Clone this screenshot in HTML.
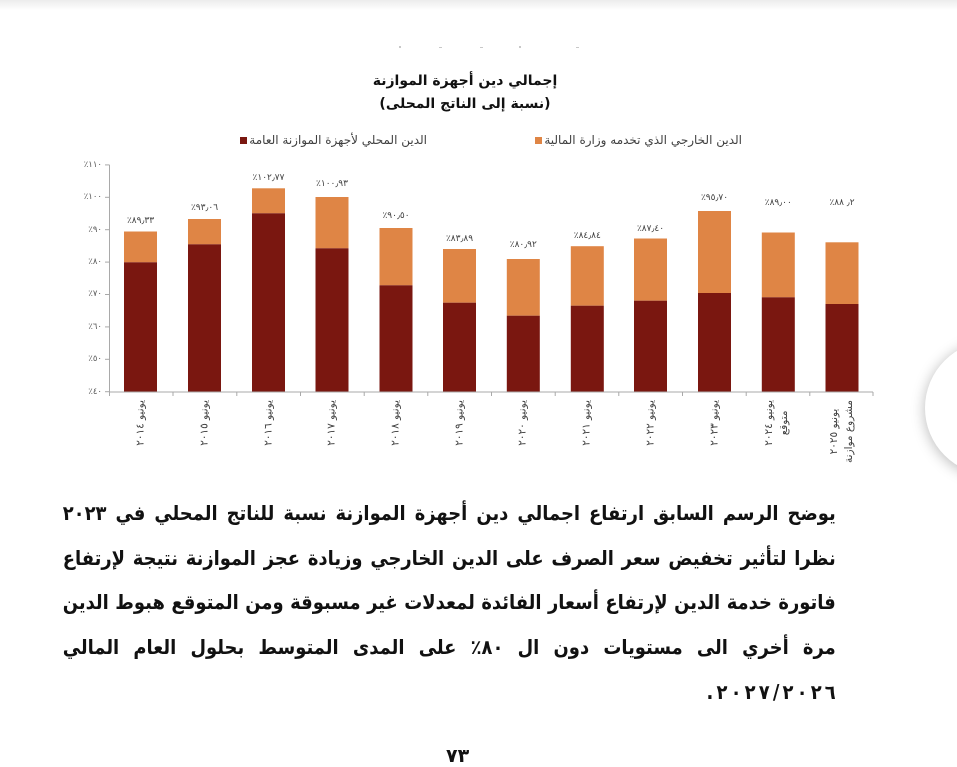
<!DOCTYPE html>
<html lang="ar">
<head>
<meta charset="utf-8">
<style>
html,body{margin:0;padding:0;background:#fff;}
body{width:957px;height:757px;position:relative;overflow:hidden;font-family:"DejaVu Sans","Liberation Sans",sans-serif;}
.abs{position:absolute;}
.topfade{left:0;top:0;width:957px;height:10px;background:linear-gradient(#ececec,#ffffff);}
.title{left:300px;width:330px;text-align:center;direction:rtl;font-weight:bold;font-size:14px;color:#111;white-space:nowrap;}
.leg{font-size:12px;color:#404040;white-space:nowrap;display:flex;align-items:center;direction:ltr;}
.leg span.t{direction:rtl;}
.leg i{display:inline-block;width:7px;height:7px;margin-right:2px;}
.ylab{font-size:8.5px;color:#595959;width:40px;text-align:right;unicode-bidi:bidi-override;direction:ltr;line-height:10px;}
.vlab{font-size:9px;color:#404040;width:60px;text-align:center;unicode-bidi:bidi-override;direction:ltr;line-height:10px;}
.xlab{top:400px;width:max-content;transform-origin:0 0;transform:rotate(-90deg) translate(-100%,-50%);text-align:center;direction:rtl;font-size:10.5px;line-height:15px;color:#404040;white-space:nowrap;}
.xlab .d{letter-spacing:3px;}
.para{left:63px;width:773px;direction:rtl;font-weight:bold;font-size:18px;color:#111;line-height:44.7px;transform-origin:right top;}
.para div{text-align:justify;text-align-last:justify;white-space:nowrap;height:44.7px;overflow:visible;}
.para div.last{text-align:right;text-align-last:right;}
.dg{direction:ltr;unicode-bidi:bidi-override;display:inline-block;}
.dg b{display:inline-block;margin-right:3.5px;font-weight:bold;}
.dg b:last-child{margin-right:0;}
.circle{left:925px;top:341px;width:134px;height:134px;border-radius:50%;background:#fff;box-shadow:0 2px 14px rgba(0,0,0,0.28);}
</style>
</head>
<body>
<div class="abs topfade"></div>

<svg class="abs" style="left:0;top:0" width="957" height="757">
  <g fill="#c8c8c8">
    <rect x="399" y="46" width="2" height="2"/>
    <rect x="439" y="47" width="3" height="1"/>
    <rect x="480" y="47" width="3" height="1"/>
    <rect x="519" y="46" width="2" height="2"/>
    <rect x="576" y="47" width="3" height="1"/>
  </g>
  <g>
    <rect x="124" y="231.5" width="33" height="30.8" fill="#df8545"/><rect x="124" y="262.3" width="33" height="129.4" fill="#7a1710"/>
    <rect x="188" y="219" width="33" height="25.3" fill="#df8545"/><rect x="188" y="244.3" width="33" height="147.4" fill="#7a1710"/>
    <rect x="252" y="188.3" width="33" height="25" fill="#df8545"/><rect x="252" y="213.3" width="33" height="178.4" fill="#7a1710"/>
    <rect x="315.5" y="197" width="33" height="51.3" fill="#df8545"/><rect x="315.5" y="248.3" width="33" height="143.4" fill="#7a1710"/>
    <rect x="379.5" y="228" width="33" height="57.3" fill="#df8545"/><rect x="379.5" y="285.3" width="33" height="106.4" fill="#7a1710"/>
    <rect x="443" y="249" width="33" height="53.7" fill="#df8545"/><rect x="443" y="302.7" width="33" height="89" fill="#7a1710"/>
    <rect x="506.8" y="259" width="33" height="56.7" fill="#df8545"/><rect x="506.8" y="315.7" width="33" height="76" fill="#7a1710"/>
    <rect x="570.8" y="246.2" width="33" height="59.5" fill="#df8545"/><rect x="570.8" y="305.7" width="33" height="86" fill="#7a1710"/>
    <rect x="634" y="238.5" width="33" height="62.2" fill="#df8545"/><rect x="634" y="300.7" width="33" height="91" fill="#7a1710"/>
    <rect x="698" y="211" width="33" height="82" fill="#df8545"/><rect x="698" y="293" width="33" height="98.7" fill="#7a1710"/>
    <rect x="761.8" y="232.5" width="33" height="64.8" fill="#df8545"/><rect x="761.8" y="297.3" width="33" height="94.4" fill="#7a1710"/>
    <rect x="825.5" y="242.3" width="33" height="61.7" fill="#df8545"/><rect x="825.5" y="304" width="33" height="87.7" fill="#7a1710"/>
  </g>
  <g stroke="#a9a9a9" stroke-width="1" fill="none">
    <line x1="109.5" y1="164.9" x2="109.5" y2="392"/>
    <line x1="109" y1="392" x2="873" y2="392"/>
    <line x1="105" y1="164.9" x2="109.5" y2="164.9"/>
    <line x1="105" y1="197.3" x2="109.5" y2="197.3"/>
    <line x1="105" y1="229.7" x2="109.5" y2="229.7"/>
    <line x1="105" y1="262.1" x2="109.5" y2="262.1"/>
    <line x1="105" y1="294.5" x2="109.5" y2="294.5"/>
    <line x1="105" y1="326.9" x2="109.5" y2="326.9"/>
    <line x1="105" y1="359.3" x2="109.5" y2="359.3"/>
    <line x1="105" y1="391.7" x2="109.5" y2="391.7"/>
    <line x1="109.5" y1="392" x2="109.5" y2="396"/>
    <line x1="173" y1="392" x2="173" y2="396"/>
    <line x1="236.8" y1="392" x2="236.8" y2="396"/>
    <line x1="300.5" y1="392" x2="300.5" y2="396"/>
    <line x1="364.2" y1="392" x2="364.2" y2="396"/>
    <line x1="427.8" y1="392" x2="427.8" y2="396"/>
    <line x1="491.5" y1="392" x2="491.5" y2="396"/>
    <line x1="555.2" y1="392" x2="555.2" y2="396"/>
    <line x1="618.8" y1="392" x2="618.8" y2="396"/>
    <line x1="682.5" y1="392" x2="682.5" y2="396"/>
    <line x1="746.2" y1="392" x2="746.2" y2="396"/>
    <line x1="809.8" y1="392" x2="809.8" y2="396"/>
    <line x1="873" y1="392" x2="873" y2="396"/>
  </g>
</svg>

<div class="abs title" style="top:73px;">إجمالي دين أجهزة الموازنة</div>
<div class="abs title" style="top:96px;">(نسبة إلى الناتج المحلى)</div>

<div class="abs leg" style="right:530px;top:133px;"><i style="background:#7a1710"></i><span class="t">الدين المحلي لأجهزة الموازنة العامة</span></div>
<div class="abs leg" style="right:215px;top:133px;"><i style="background:#df8545"></i><span class="t">الدين الخارجي الذي تخدمه وزارة المالية</span></div>

<div class="abs ylab" style="left:62px;top:160px;">٪١١٠</div>
<div class="abs ylab" style="left:62px;top:192px;">٪١٠٠</div>
<div class="abs ylab" style="left:62px;top:225px;">٪٩٠</div>
<div class="abs ylab" style="left:62px;top:257px;">٪٨٠</div>
<div class="abs ylab" style="left:62px;top:289px;">٪٧٠</div>
<div class="abs ylab" style="left:62px;top:322px;">٪٦٠</div>
<div class="abs ylab" style="left:62px;top:354px;">٪٥٠</div>
<div class="abs ylab" style="left:62px;top:387px;">٪٤٠</div>

<div class="abs vlab" style="left:110.5px;top:216px;">٪٨٩٫٣٣</div>
<div class="abs vlab" style="left:174.5px;top:203px;">٪٩٣٫٠٦</div>
<div class="abs vlab" style="left:238.5px;top:173px;">٪١٠٢٫٧٧</div>
<div class="abs vlab" style="left:302px;top:179px;">٪١٠٠٫٩٣</div>
<div class="abs vlab" style="left:366px;top:211px;">٪٩٠٫٥٠</div>
<div class="abs vlab" style="left:429.5px;top:234px;">٪٨٣٫٨٩</div>
<div class="abs vlab" style="left:493.3px;top:240px;">٪٨٠٫٩٢</div>
<div class="abs vlab" style="left:557.3px;top:231px;">٪٨٤٫٨٤</div>
<div class="abs vlab" style="left:620.5px;top:224px;">٪٨٧٫٤٠</div>
<div class="abs vlab" style="left:684.5px;top:193px;">٪٩٥٫٧٠</div>
<div class="abs vlab" style="left:748.3px;top:198px;">٪٨٩٫٠٠</div>
<div class="abs vlab" style="left:812px;top:198px;">٪٨٨ ٫٢</div>

<div class="abs xlab" style="left:140.5px;">يونيو <span class="d">٢٠١٤</span></div>
<div class="abs xlab" style="left:204.5px;">يونيو <span class="d">٢٠١٥</span></div>
<div class="abs xlab" style="left:268.5px;">يونيو <span class="d">٢٠١٦</span></div>
<div class="abs xlab" style="left:332px;">يونيو <span class="d">٢٠١٧</span></div>
<div class="abs xlab" style="left:396px;">يونيو <span class="d">٢٠١٨</span></div>
<div class="abs xlab" style="left:459.5px;">يونيو <span class="d">٢٠١٩</span></div>
<div class="abs xlab" style="left:523.3px;">يونيو <span class="d">٢٠٢٠</span></div>
<div class="abs xlab" style="left:587.3px;">يونيو <span class="d">٢٠٢١</span></div>
<div class="abs xlab" style="left:650.5px;">يونيو <span class="d">٢٠٢٢</span></div>
<div class="abs xlab" style="left:714.5px;">يونيو <span class="d">٢٠٢٣</span></div>
<div class="abs xlab" style="left:777px;">يونيو <span class="d">٢٠٢٤</span><br>متوقع</div>
<div class="abs xlab" style="left:842px;">يونيو <span class="d">٢٠٢٥</span><br>مشروع موازنة</div>

<div class="abs para" id="para" style="top:491px;">
  <div><span>يوضح الرسم السابق ارتفاع اجمالي دين أجهزة الموازنة نسبة للناتج المحلي في ٢٠٢٣</span></div>
  <div><span>نظرا لتأثير تخفيض سعر الصرف على الدين الخارجي وزيادة عجز الموازنة نتيجة لإرتفاع</span></div>
  <div><span>فاتورة خدمة الدين لإرتفاع أسعار الفائدة لمعدلات غير مسبوقة ومن المتوقع هبوط الدين</span></div>
  <div><span>مرة أخري الى مستويات دون ال ٨٠٪ على المدى المتوسط بحلول العام المالي</span></div>
  <div class="last"><span class="dg"><b>.</b><b>٢</b><b>٠</b><b>٢</b><b>٧</b><b>/</b><b>٢</b><b>٠</b><b>٢</b><b>٦</b></span></div>
</div>

<div class="abs" style="left:446px;top:745px;font-weight:bold;font-size:19px;color:#111;letter-spacing:2px;line-height:22px;">٧٣</div>

<div class="abs circle"></div>

<script>
(function(){
  try{
    var para=document.getElementById('para');
    var rows=para.querySelectorAll(':scope > div');
    para.style.fontSize='20px';
    var maxW=0;
    for(var i=0;i<4;i++){
      var r=rows[i];
      r.style.textAlign='right';r.style.textAlignLast='right';
      var w=r.firstElementChild.getBoundingClientRect().width;
      if(w>maxW)maxW=w;
    }
    var s=Math.min(1,770/maxW);
    var W=773/s;
    para.style.width=W.toFixed(2)+'px';
    para.style.left=(836-W).toFixed(2)+'px';
    para.style.transform='scaleX('+s.toFixed(4)+')';
    for(var j=0;j<4;j++){
      rows[j].style.textAlign='justify';rows[j].style.textAlignLast='justify';
    }
  }catch(e){}
})();
</script>
</body>
</html>
